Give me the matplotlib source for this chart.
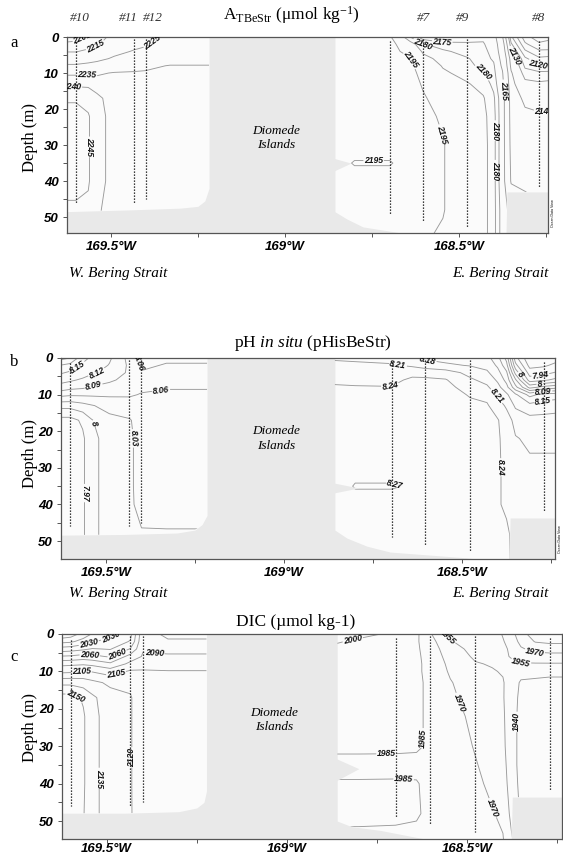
import numpy as np
import matplotlib
matplotlib.use("Agg")
import matplotlib.pyplot as plt

plt.rcParams['font.family'] = ['Liberation Serif', 'DejaVu Serif']
plt.rcParams['mathtext.fontset'] = 'custom'
plt.rcParams['mathtext.rm'] = 'Liberation Serif'
plt.rcParams['mathtext.it'] = 'Liberation Serif:italic'

# ---- data grid (lon in degrees W, depth in m) ----
DEPTHS = [0, 2, 4, 6, 8, 10, 13, 17, 22, 30, 35, 40, 48, 55]
WEST_LON = [169.63, 169.60, 169.565, 169.54, 169.49, 169.434, 169.40, 169.33, 169.21]
EAST_LON = [168.86, 168.80, 168.698, 168.64, 168.603, 168.546, 168.477, 168.43, 168.40,
            168.375, 168.35, 168.31, 168.27, 168.23]

STATION_LON = [169.60, 169.434, 169.40, 168.698, 168.603, 168.477, 168.27]
STATION_TOP = [1.5, 0.5, 0.5, 1.0, 0.5, 0.5, 1.0]
STATION_BOTTOM = [46, 46, 45, 49, 51, 53, 42]
STATION_NAMES = ['#10', '#11', '#12', '#7', '#9', '#8']
STATION_NAME_LON = [169.589, 169.451, 169.379, 168.603, 168.489, 168.270]

# total alkalinity, one list per column (over DEPTHS)
ALK_WEST = [
    [2200, 2207, 2214.5, 2221, 2226, 2234, 2239, 2244, 2248, 2248, 2248, 2247, 2244, 2243],
    [2201, 2208, 2214.5, 2221, 2226, 2234, 2239, 2244, 2248, 2248, 2248, 2247, 2244, 2243],
    [2207, 2211, 2217, 2222, 2227, 2234, 2239, 2243, 2245.5, 2245.5, 2245.5, 2245.5, 2244, 2243],
    [2211, 2214, 2219, 2223, 2228, 2234, 2238, 2241, 2242, 2242, 2242, 2242, 2241, 2240.5],
    [2218, 2220, 2223, 2226, 2230, 2235.5, 2237.5, 2238, 2238, 2238, 2238, 2238, 2237, 2237],
    [2222, 2223, 2225.5, 2227, 2231, 2236, 2237, 2237, 2237, 2237, 2237, 2237, 2237, 2237],
    [2224, 2224.5, 2226, 2228, 2233, 2236, 2237, 2237, 2237, 2237, 2237, 2237, 2237, 2237],
    [2226, 2227, 2228, 2230, 2235.5, 2236.5, 2237, 2237, 2237, 2237, 2237, 2237, 2237, 2237],
    [2226, 2227, 2228, 2230, 2235.5, 2236.5, 2237, 2237, 2237, 2237, 2237, 2237, 2237, 2237],
]
ALK_EAST = [
    [2198, 2198, 2198, 2198, 2198, 2198, 2198, 2198, 2198, 2198, 2198, 2198, 2198, 2198],
    [2198, 2198, 2198, 2198, 2198, 2198, 2198, 2198, 2198, 2198, 2194.5, 2198, 2198, 2198],
    [2196, 2198, 2198, 2199, 2199, 2199, 2199, 2199, 2199, 2198, 2194.5, 2198, 2198, 2197],
    [2180, 2188, 2192, 2195.5, 2197, 2198, 2199, 2199, 2199, 2198, 2198, 2198, 2198, 2197],
    [2172, 2180.5, 2184, 2187, 2190, 2192, 2194, 2196, 2197, 2197, 2197, 2197, 2197, 2196],
    [2170, 2177, 2181, 2183, 2184.5, 2186, 2188, 2191, 2194, 2195.5, 2195.5, 2195.5, 2195.5, 2194],
    [2172, 2176, 2178, 2180.5, 2181.5, 2183, 2185.5, 2187, 2188, 2189, 2189, 2189, 2189, 2189],
    [2174, 2175.5, 2176.5, 2177.5, 2178.5, 2180.5, 2183, 2185.5, 2186.5, 2187, 2187, 2187, 2187, 2187],
    [2170, 2172, 2173, 2174, 2176, 2177, 2178.5, 2181, 2182, 2182, 2182, 2182, 2182, 2182],
    [2151, 2155.5, 2158, 2161, 2163, 2166, 2168, 2170.5, 2170.5, 2170.5, 2170.5, 2170.5, 2172, 2172],
    [2121, 2126, 2131, 2136, 2138, 2141, 2143, 2145.5, 2146, 2147, 2148, 2149, 2160, 2166],
    [2107, 2111, 2116, 2121, 2124, 2127, 2132, 2138, 2142, 2145.5, 2146, 2147, 2155.5, 2160],
    [2102, 2106, 2111, 2116, 2121, 2126, 2131, 2137, 2141, 2144, 2145.5, 2146, 2152, 2155.5],
    [2104, 2107, 2111, 2117, 2122, 2126, 2132, 2138, 2141, 2144, 2145.5, 2146, 2152, 2155.5],
]
ALK_LEVELS = [2105, 2110, 2115, 2120, 2125, 2130, 2140, 2150, 2165, 2175, 2180, 2185, 2195,
              2205, 2215, 2225, 2235, 2240, 2245]

# pH in situ
PH_WEST = [
    [8.22, 8.18, 8.155, 8.13, 8.11, 8.07, 8.01, 7.96, 7.95, 7.95, 7.95, 7.95, 7.96, 7.96],
    [8.21, 8.17, 8.145, 8.125, 8.10, 8.065, 8.01, 7.96, 7.95, 7.95, 7.95, 7.95, 7.96, 7.96],
    [8.16, 8.145, 8.135, 8.115, 8.095, 8.065, 8.02, 7.975, 7.965, 7.965, 7.965, 7.965, 7.965, 7.965],
    [8.145, 8.14, 8.125, 8.105, 8.088, 8.065, 8.028, 7.998, 7.99, 7.99, 7.99, 7.99, 7.99, 7.99],
    [8.125, 8.118, 8.11, 8.095, 8.08, 8.065, 8.04, 8.022, 8.015, 8.015, 8.015, 8.015, 8.015, 8.015],
    [8.08, 8.085, 8.085, 8.08, 8.072, 8.064, 8.045, 8.028, 8.025, 8.025, 8.025, 8.025, 8.025, 8.025],
    [8.05, 8.055, 8.062, 8.066, 8.066, 8.058, 8.046, 8.04, 8.04, 8.04, 8.04, 8.038, 8.028, 8.02],
    [8.055, 8.062, 8.065, 8.066, 8.062, 8.055, 8.046, 8.04, 8.04, 8.04, 8.04, 8.04, 8.028, 8.02],
    [8.055, 8.062, 8.065, 8.066, 8.062, 8.055, 8.046, 8.04, 8.04, 8.04, 8.04, 8.04, 8.028, 8.02],
]
PH_EAST = [
    [8.205, 8.22, 8.23, 8.235, 8.243, 8.246, 8.25, 8.255, 8.255, 8.255, 8.255, 8.255, 8.255, 8.255],
    [8.205, 8.215, 8.225, 8.233, 8.242, 8.246, 8.25, 8.255, 8.26, 8.26, 8.272, 8.26, 8.26, 8.26],
    [8.20, 8.213, 8.225, 8.233, 8.241, 8.246, 8.25, 8.255, 8.26, 8.26, 8.272, 8.26, 8.26, 8.26],
    [8.19, 8.205, 8.232, 8.245, 8.25, 8.255, 8.258, 8.26, 8.26, 8.26, 8.268, 8.26, 8.26, 8.26],
    [8.175, 8.195, 8.23, 8.245, 8.25, 8.255, 8.258, 8.26, 8.26, 8.26, 8.26, 8.26, 8.26, 8.26],
    [8.17, 8.185, 8.225, 8.242, 8.247, 8.25, 8.255, 8.255, 8.255, 8.255, 8.255, 8.255, 8.255, 8.255],
    [8.165, 8.178, 8.20, 8.215, 8.23, 8.238, 8.245, 8.25, 8.25, 8.25, 8.25, 8.25, 8.25, 8.25],
    [8.16, 8.17, 8.185, 8.20, 8.215, 8.232, 8.243, 8.246, 8.246, 8.246, 8.246, 8.246, 8.246, 8.246],
    [8.13, 8.145, 8.16, 8.175, 8.19, 8.205, 8.225, 8.242, 8.243, 8.243, 8.243, 8.243, 8.245, 8.245],
    [8.08, 8.10, 8.125, 8.14, 8.16, 8.185, 8.205, 8.225, 8.232, 8.235, 8.235, 8.235, 8.245, 8.245],
    [7.95, 7.98, 8.02, 8.065, 8.10, 8.155, 8.175, 8.20, 8.212, 8.22, 8.225, 8.225, 8.23, 8.23],
    [7.885, 7.90, 7.925, 7.955, 8.02, 8.11, 8.16, 8.19, 8.205, 8.215, 8.22, 8.22, 8.22, 8.22],
    [7.89, 7.905, 7.93, 7.965, 8.04, 8.13, 8.165, 8.19, 8.205, 8.215, 8.22, 8.22, 8.22, 8.22],
    [7.90, 7.92, 7.945, 7.98, 8.05, 8.135, 8.17, 8.19, 8.205, 8.215, 8.22, 8.22, 8.22, 8.22],
]
PH_LEVELS = [7.88, 7.91, 7.94, 7.97, 8.00, 8.03, 8.06, 8.09, 8.12, 8.15, 8.18, 8.21, 8.24, 8.27]

# dissolved inorganic carbon
DIC_WEST = [
    [1986, 2010, 2036, 2061, 2086, 2101, 2131, 2156, 2161, 2161, 2161, 2161, 2157, 2156],
    [1991, 2012, 2038, 2062, 2087, 2102, 2131, 2156, 2158, 2158, 2158, 2158, 2156, 2154],
    [2006, 2021, 2042, 2066, 2088, 2106, 2128, 2148, 2152, 2152, 2152, 2152, 2151, 2151],
    [2016, 2028, 2046, 2064, 2086, 2104, 2124, 2138, 2140, 2140, 2140, 2140, 2140, 2140],
    [2026, 2036, 2044, 2058, 2078, 2098, 2117, 2126, 2127, 2127, 2127, 2127, 2127, 2127],
    [2041, 2046, 2061, 2081, 2094, 2107, 2117, 2121, 2121, 2121, 2121, 2121, 2121, 2122],
    [2086, 2088, 2089, 2091, 2097, 2107, 2112, 2112, 2112, 2112, 2112, 2112, 2113, 2116],
    [2092, 2089, 2088, 2091, 2096, 2106, 2110, 2110, 2110, 2110, 2110, 2110, 2114, 2121],
    [2092, 2089, 2088, 2091, 2096, 2106, 2110, 2110, 2110, 2110, 2110, 2110, 2114, 2121],
]
DIC_EAST = [
    [2006, 2001, 1997, 1995, 1993, 1992, 1991, 1990, 1990, 1990, 1978, 1987, 1990, 1980],
    [2003, 1998, 1995, 1994, 1993, 1992, 1991, 1990, 1990, 1990, 1978, 1987, 1990, 1980],
    [1998, 1995, 1993, 1992, 1991, 1990, 1990, 1989, 1989, 1989, 1979, 1987, 1989, 1980],
    [1988, 1987, 1987, 1987, 1987, 1987, 1987, 1987, 1987, 1987, 1981, 1986, 1987, 1980],
    [1972, 1976, 1979, 1981, 1982, 1982, 1983, 1983, 1983, 1983, 1981, 1981, 1981, 1980],
    [1950, 1956, 1960, 1963, 1966, 1968, 1971, 1973, 1976, 1978, 1978, 1978, 1978, 1977],
    [1946, 1948, 1951, 1953, 1956, 1958, 1961, 1963, 1966, 1969, 1971, 1973, 1975, 1975],
    [1948, 1950, 1951, 1952, 1954, 1956, 1957, 1958, 1960, 1963, 1965, 1967, 1971, 1972],
    [1956, 1954, 1953, 1953, 1954, 1954, 1956, 1956, 1957, 1958, 1960, 1962, 1967, 1971],
    [1965, 1961, 1957, 1956, 1953, 1950, 1948, 1947, 1946, 1946, 1946, 1947, 1950, 1956],
    [1980, 1975, 1968, 1960, 1954, 1946, 1938, 1936, 1935, 1935, 1935, 1936, 1938, 1946],
    [1992, 1986, 1975, 1963, 1954, 1945, 1937, 1934, 1933, 1933, 1933, 1933, 1936, 1941],
    [1995, 1988, 1977, 1964, 1954, 1944, 1936, 1933, 1932, 1932, 1932, 1932, 1934, 1938],
    [1995, 1988, 1977, 1964, 1954, 1944, 1936, 1933, 1932, 1932, 1932, 1932, 1934, 1938],
]
DIC_LEVELS = [1925, 1940, 1955, 1970, 1985, 2000, 2015, 2030, 2045, 2060, 2075, 2090,
              2105, 2120, 2135, 2150, 2165]

# data coverage (white area): edge longitudes and bottom depth
A_WEST_EDGE = [169.64, 169.45, 169.30, 169.25, 169.23, 169.218]
A_WEST_BOTTOM = [48.5, 48.0, 47.5, 47.0, 45.5, 42.0]
A_EAST_EDGE = [168.856, 168.822, 168.776, 168.678, 168.603, 168.365, 168.362, 168.23]
A_EAST_BOTTOM = [48.5, 50.5, 52.7, 54.2, 56, 56, 43, 43]
B_WEST_EDGE = [169.64, 169.45, 169.30, 169.25, 169.23, 169.216]
B_WEST_BOTTOM = [48.4, 48.2, 47.8, 47.0, 45.5, 43.0]
B_EAST_EDGE = [168.857, 168.823, 168.767, 168.702, 168.486, 168.368, 168.365, 168.23]
B_EAST_BOTTOM = [47, 49.2, 51.4, 53, 54.6, 56, 43.7, 43.7]
C_WEST_EDGE = [169.64, 169.45, 169.30, 169.25, 169.23, 169.223]
C_WEST_BOTTOM = [47.9, 47.9, 47.5, 46.5, 45.0, 42.0]
C_EAST_EDGE = [168.860, 168.82, 168.74, 168.66, 168.55, 168.377, 168.374, 168.23]
C_EAST_BOTTOM = [50, 51.5, 52.5, 54, 56, 56, 43.6, 43.6]

# gray notch on the west side of the east section: (top, bottom, tip lon, tip depth)
A_NOTCH = (33.5, 37.5, 168.81, 35.0)
B_NOTCH = (34.0, 37.0, 168.79, 35.5)
C_NOTCH = (33.0, 39.6, 168.80, 36.0)

# contour label anchor points (lon W, depth)
A_LABELS = [(169.575, 1.7), (169.540, 3.6), (169.365, 3.0), (169.569, 10.5), (169.612, 13.8),
            (169.563, 30.5), (168.641, 6.4), (168.540, 26.7), (168.745, 34.6), (168.603, 1.7),
            (168.549, 2.2), (168.425, 9.2), (168.391, 26), (168.402, 37), (168.376, 14.7),
            (168.339, 5), (168.276, 8.3), (168.259, 18)]
B_LABELS = [(169.584, 1.9), (169.522, 5.2), (169.537, 6.6), (169.404, 1.4), (169.348, 6.8),
            (169.531, 17.8), (169.419, 21.9), (169.553, 36.9), (168.680, 1.9), (168.598, 1.4),
            (168.702, 8.7), (168.407, 10.7), (168.379, 29.8), (168.688, 34.4), (168.281, 3.8),
            (168.337, 4.6), (168.281, 7.4), (168.272, 9.3), (168.272, 12)]
C_LABELS = [(169.552, 1.6), (169.484, 1.6), (169.470, 5.6), (169.547, 6.1), (169.368, 6.4),
            (169.569, 10.4), (169.473, 11), (169.588, 16.8), (169.525, 38.5), (169.423, 33),
            (168.819, 0.5), (168.566, 1.6), (168.618, 27.9), (168.723, 33.7), (168.676, 39.6),
            (168.525, 18.5), (168.407, 45.7), (168.365, 23.5), (168.352, 8.3), (168.310, 4.3)]

LAND = '#e9e9e9'
WATER = '#fbfbfb'
LINE = '#9a9a9a'
W, H = 563, 857


def fx(px):
    return px / W


def fy(py):
    return 1 - py / H


def int_fmt(v):
    return f'{v:.0f}'


def ph_fmt(v):
    return f'{v:.2f}'.rstrip('0').rstrip('.')


def draw_region(ax, lon, values, levels, edge, bottom):
    poly = ax.fill_between(edge, 0, bottom, color=WATER, lw=0, zorder=1)
    cs = ax.contour(lon, DEPTHS, np.array(values).T, levels=levels,
                    colors=LINE, linewidths=0.65, zorder=2)
    cs.set_clip_path(poly.get_paths()[0], ax.transData)
    return cs


def draw_panel(rect, xlim, ylim, west, east, levels, fmt, wedge, wbot, eedge, ebot,
               notch, labels, diomede, xpad=3):
    ax = fig.add_axes(rect)
    ax.set_facecolor(LAND)
    cs_w = draw_region(ax, WEST_LON, west, levels, wedge, wbot)
    cs_e = draw_region(ax, EAST_LON, east, levels, eedge, ebot)

    ax.vlines(STATION_LON, STATION_TOP, STATION_BOTTOM, colors='k',
              linestyles=(0, (1, 1.4)), linewidth=0.9, zorder=2.5)

    top, bot, tip_lon, tip_d = notch
    ax.fill_between([eedge[0] + 0.01, tip_lon], [top, tip_d], [bot, tip_d],
                    color=LAND, lw=0, zorder=3)

    for cs in (cs_w, cs_e):
        pts = [p for p in labels if (p[0] > 169.1) == (cs is cs_w)]
        texts = ax.clabel(cs, manual=pts, inline=True, inline_spacing=1,
                          fmt=fmt, fontsize=6.2)
        for t in texts:
            t.set_fontfamily('Liberation Sans')
            t.set_fontweight('bold')
            t.set_fontstyle('italic')
            t.set_color('#111111')
            t.set_zorder(4)

    ax.text(diomede[0], diomede[1], 'Diomede\nIslands', ha='center', va='center',
            style='italic', fontsize=9.5, linespacing=1.25, zorder=5)

    ax.set_xlim(*xlim)
    ax.set_ylim(*ylim)
    ax.set_xticks([169.5, 169.0, 168.5])
    ax.set_xticklabels(['169.5°W', '169°W', '168.5°W'])
    ax.set_xticks([169.25, 168.75, 168.25], minor=True)
    ax.set_yticks([0, 10, 20, 30, 40, 50])
    ax.set_yticks([5, 15, 25, 35, 45], minor=True)
    ax.tick_params(which='both', direction='out', length=3, width=0.7, color='#555555', pad=3)
    ax.tick_params(axis='x', which='both', pad=xpad)
    for lab in ax.get_xticklabels() + ax.get_yticklabels():
        lab.set_fontfamily('Liberation Sans')
        lab.set_fontweight('bold')
        lab.set_fontstyle('italic')
        lab.set_fontsize(9.5)
    for s in ax.spines.values():
        s.set_color('#555555')
        s.set_linewidth(0.9)
    return ax


fig = plt.figure(figsize=(W / 100, H / 100), dpi=100)

# panel a
draw_panel([fx(67), fy(233), fx(481), 196 / H], (169.626, 168.244), (54.4, 0),
           ALK_WEST, ALK_EAST, ALK_LEVELS, int_fmt, A_WEST_EDGE, A_WEST_BOTTOM,
           A_EAST_EDGE, A_EAST_BOTTOM, A_NOTCH, A_LABELS, (169.026, 28))
# panel b
draw_panel([fx(61), fy(559), fx(494), 201 / H], (169.626, 168.239), (54.9, 0),
           PH_WEST, PH_EAST, PH_LEVELS, ph_fmt, B_WEST_EDGE, B_WEST_BOTTOM,
           B_EAST_EDGE, B_EAST_BOTTOM, B_NOTCH, B_LABELS, (169.022, 22))
# panel c
draw_panel([fx(62), fy(839), fx(500), 205 / H], (169.624, 168.236), (54.8, 0),
           DIC_WEST, DIC_EAST, DIC_LEVELS, int_fmt, C_WEST_EDGE, C_WEST_BOTTOM,
           C_EAST_EDGE, C_EAST_BOTTOM, C_NOTCH, C_LABELS, (169.036, 23), xpad=0)

# titles, panel letters, axis labels
fig.text(fx(291), fy(15), r'A$_{\mathrm{TBeStr}}$ ($\mathrm{\mu}$mol kg$^{\mathrm{-1}}$)',
         ha='center', va='center', fontsize=12.5)
fig.text(fx(313), fy(343), r'pH $\mathit{in\ situ}$ (pHisBeStr)', ha='center', va='center',
         fontsize=12.5)
fig.text(fx(296), fy(622), 'DIC (µmol kg-1)', ha='center', va='center', fontsize=12.5)

for letter, py in (('a', 43), ('b', 362), ('c', 657)):
    fig.text(fx(14), fy(py), letter, ha='center', va='center', fontsize=12)

for py in (138, 454, 728):
    fig.text(fx(30), fy(py), 'Depth (m)', rotation=90, ha='center', va='center', fontsize=12)

# station names above panel a
ax_a = fig.axes[0]
for name, lon in zip(STATION_NAMES, STATION_NAME_LON):
    ax_a.text(lon, -5.4, name, ha='center', va='center', style='italic', fontsize=9.5,
              color='#333333', clip_on=False)

for py in (274, 594):
    fig.text(fx(118), fy(py), 'W. Bering Strait', ha='center', va='center',
             style='italic', fontsize=11)
    fig.text(fx(500), fy(py), 'E. Bering Strait', ha='center', va='center',
             style='italic', fontsize=11)

for px, py in ((553, 213), (560, 539)):
    fig.text(fx(px), fy(py), 'Ocean Data View', rotation=90, ha='center', va='center',
             fontsize=2.6, family='Liberation Sans')

fig.savefig('out.png', dpi=100)
